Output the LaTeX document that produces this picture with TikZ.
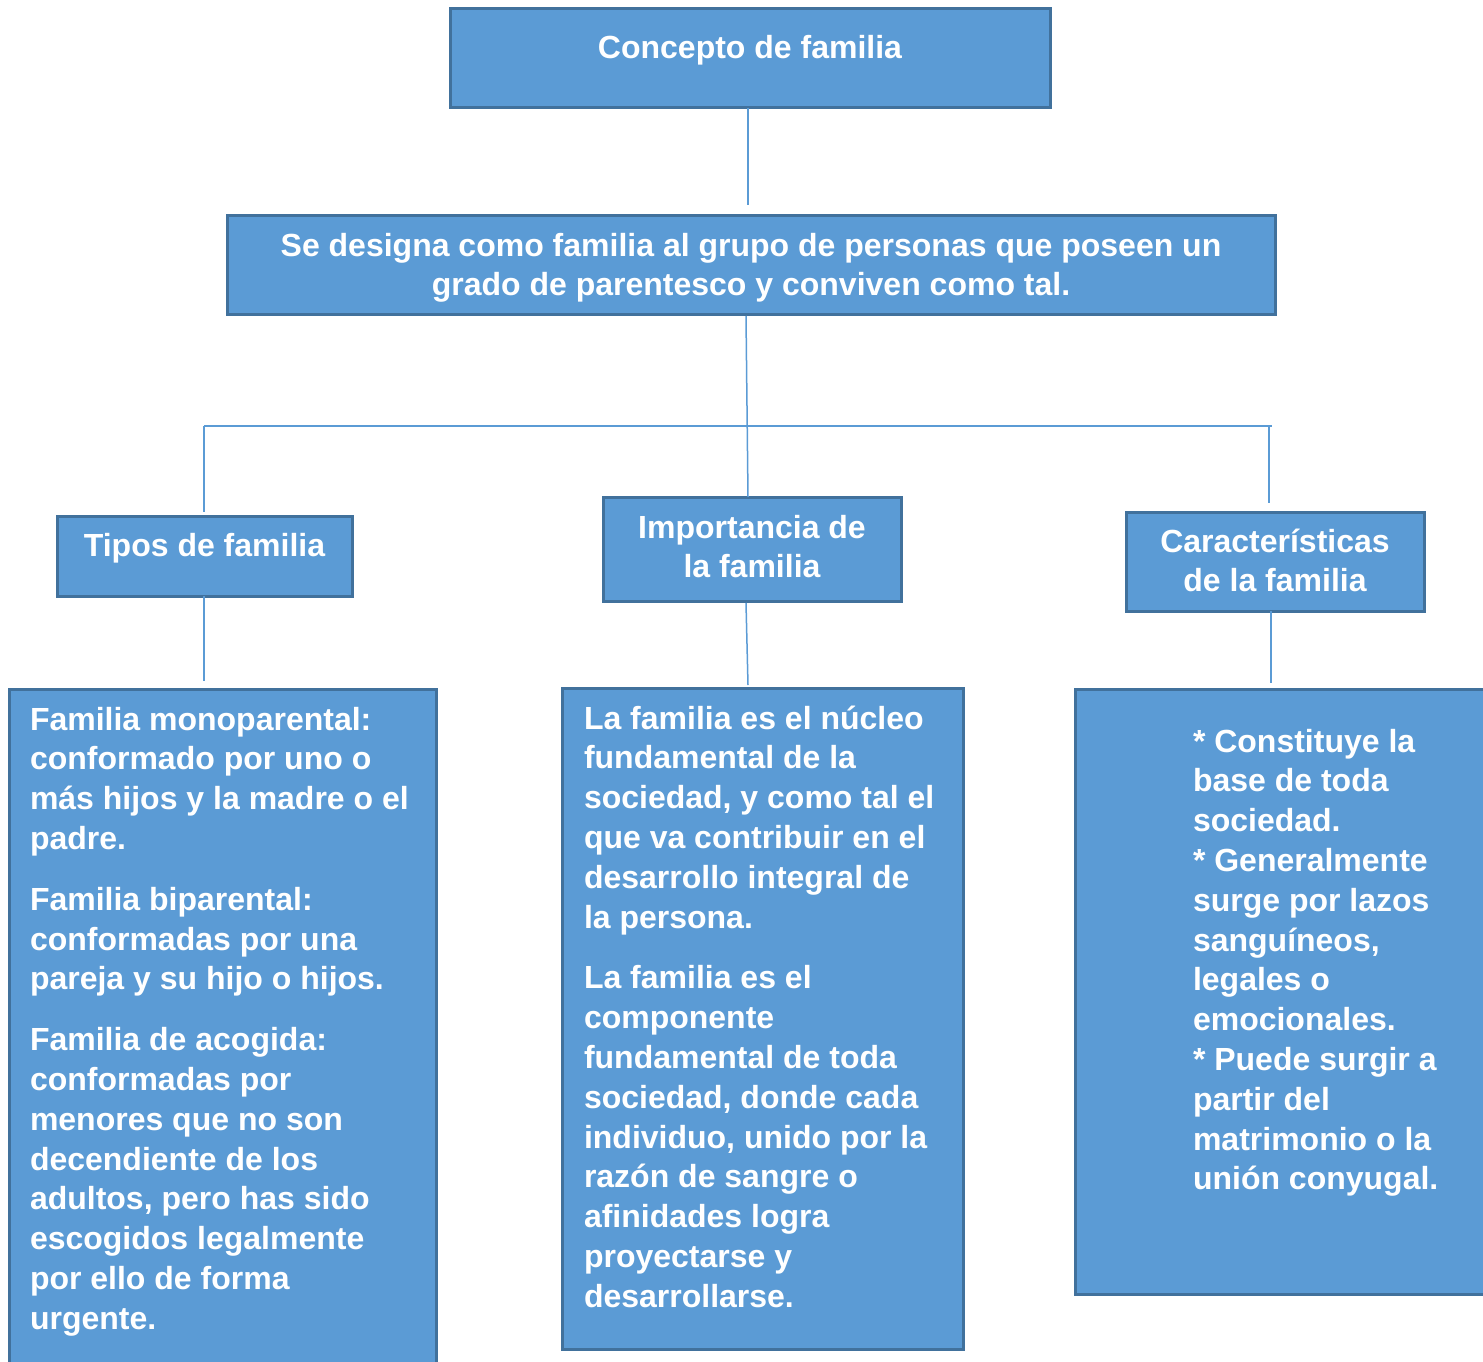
\documentclass[tikz,border=0pt]{standalone}
\usepackage{fontspec}
\setmainfont{Liberation Sans}
\usetikzlibrary{calc}
\definecolor{boxfill}{HTML}{5B9BD5}
\definecolor{boxedge}{HTML}{41719C}
\definecolor{linkcol}{HTML}{5B9BD5}
\newcommand{\firststrut}{\rule{0pt}{30pt}}
\begin{document}
\begin{tikzpicture}[x=1pt,y=-1pt,
  box/.style={rectangle, fill=boxfill, draw=boxedge, line width=3pt, inner sep=0pt, outer sep=0pt},
  txt/.style={text=white, inner sep=0pt, outer sep=0pt, font=\fontsize{32}{39.8}\selectfont\bfseries},
  link/.style={draw=linkcol, line width=1.5pt}]
\useasboundingbox (0,0) rectangle (1483,1362);
\clip (0,0) rectangle (1483,1362);
% boxes
\node[box, minimum width=600pt, minimum height=99pt] (top) at (750,58.5) {};
\node[box, minimum width=1048pt, minimum height=99pt] (def) at (751,264.5) {};
\node[box, minimum width=295pt, minimum height=80pt] (tipos) at (204.5,556) {};
\node[box, minimum width=298pt, minimum height=104pt] (imp) at (752,549) {};
\node[box, minimum width=298pt, minimum height=99pt] (car) at (1275,561.5) {};
\node[box, minimum width=427pt, minimum height=686pt] (tiposd) at (222.5,1032) {};
\node[box, minimum width=401pt, minimum height=661pt] (impd) at (762.5,1018.5) {};
\node[box, minimum width=420pt, minimum height=605pt] (card) at (1285,991.5) {};
% texts
\node[txt, anchor=base, align=center] (ttop) at (750,59) {Concepto de familia};
\node[txt, anchor=north, align=center] (tdef) at (751,226) {\firststrut Se designa como familia al grupo de personas que poseen un\\grado de parentesco y conviven como tal.};
\node[txt, anchor=base, align=center] (ttipos) at (204.5,556) {Tipos de familia};
\node[txt, anchor=north, align=center] (timp) at (752,508) {\firststrut Importancia de\\la familia};
\node[txt, anchor=north, align=center] (tcar) at (1275,522) {\firststrut Características\\de la familia};
\node[txt, anchor=north west, align=left] (ttiposd) at (30,700) {\firststrut Familia monoparental:\\conformado por uno o\\más hijos y la madre o el\\padre.\\[21pt]Familia biparental:\\conformadas por una\\pareja y su hijo o hijos.\\[21pt]Familia de acogida:\\conformadas por\\menores que no son\\decendiente de los\\adultos, pero has sido\\escogidos legalmente\\por ello de forma\\urgente.};
\node[txt, anchor=north west, align=left] (timpd) at (584,699) {\firststrut La familia es el núcleo\\fundamental de la\\sociedad, y como tal el\\que va contribuir en el\\desarrollo integral de\\la persona.\\[21pt]La familia es el\\componente\\fundamental de toda\\sociedad, donde cada\\individuo, unido por la\\razón de sangre o\\afinidades logra\\proyectarse y\\desarrollarse.};
\node[txt, anchor=north west, align=left] (tcard) at (1193,722) {\firststrut * Constituye la\\base de toda\\sociedad.\\* Generalmente\\surge por lazos\\sanguíneos,\\legales o\\emocionales.\\* Puede surgir a\\partir del\\matrimonio o la\\unión conyugal.};
% connectors
\coordinate (jl) at (204,426);
\coordinate (jr) at (1272,426);
\coordinate (jrv) at (1269,426);
\draw[link] ($(top.south)+(-2,0)$) -- ($(def.north)+(-3,-10)$);
\draw[link] ($(def.south)+(-5,2)$) -- ($(imp.north)+(-4,0)$);
\draw[link] (jl) -- (jr);
\draw[link] (jl) -- ($(tipos.north)+(-0.5,-4)$);
\draw[link] (jrv) -- ($(car.north)+(-6,-9)$);
\draw[link] ($(tipos.south)+(-0.5,0)$) -- ($(tiposd.north)+(-18.5,-8)$);
\draw[link] ($(imp.south)+(-6,2)$) -- ($(impd.north)+(-14.5,-3)$);
\draw[link] ($(car.south)+(-4,0)$) -- ($(card.north)+(-14,-6)$);
\end{tikzpicture}
\end{document}
